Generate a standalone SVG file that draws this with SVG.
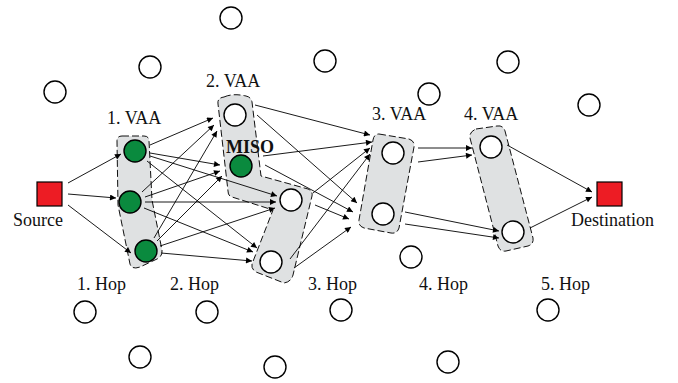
<svg xmlns="http://www.w3.org/2000/svg" width="678" height="383" viewBox="0 0 678 383">
<style>
.t{font-family:"Liberation Serif","Times New Roman",serif;font-size:18px;fill:#111}
.b{font-weight:bold}
.idle{fill:#fff;stroke:#000;stroke-width:1.4}
.grn{fill:#0a8a3e;stroke:#000;stroke-width:1.4}
.vaa{fill:#dfe1e2;stroke:#111;stroke-width:1;stroke-dasharray:7,3}
.sq{fill:#ed1c24;stroke:#000;stroke-width:1.2}
.c line{stroke:#000;stroke-width:0.9;marker-end:url(#ah)}
</style>
<defs>
<marker id="ah" viewBox="0 0 10 10" refX="10" refY="5" markerWidth="9" markerHeight="6" markerUnits="userSpaceOnUse" orient="auto">
<path d="M0,0 L10,5 L0,10 z" fill="#000"/>
</marker>
</defs>
<rect width="678" height="383" fill="#fff"/>

<g id="vaa-areas">
<path id="vaa1" class="vaa" d="M122,136 L144,136 Q149,136 149,141 L152,200 L162,250 Q163,256 157,259 L140,267 Q132,270 130,264 L118,205 L117,141 Q117,136 122,136 Z"/>
<path id="vaa2" class="vaa" d="M224,97 Q233,93 246,96 Q251,97 252,102 L261,176 L308,189 Q313,191 312,196 L293,275 Q291,282 284,283 L256,272 Q251,269 252,264 L273,210 L232,197 Q228,196 228,191 L218,104 Q217,98 224,97 Z"/>
<path id="vaa3" class="vaa" d="M379,134 L409,139 Q415,141 414,147 L399,228 Q397,234 391,233 L364,228 Q358,226 359,220 L373,140 Q374,134 379,134 Z"/>
<path id="vaa4" class="vaa" d="M476,129 L497,126 Q503,125 505,131 L533,238 Q534,244 528,246 L506,251 Q500,252 498,246 L470,138 Q469,132 476,129 Z"/>
</g>

<g id="connectors" class="c">
<line x1="68" y1="183" x2="121" y2="154"/>
<line x1="68" y1="194" x2="116" y2="198"/>
<line x1="68" y1="205" x2="131" y2="253"/>

<line x1="150" y1="145" x2="213" y2="118"/>
<line x1="150" y1="153" x2="220" y2="165"/>
<line x1="150" y1="156" x2="277" y2="196"/>
<line x1="147" y1="161" x2="257" y2="248"/>
<line x1="142" y1="192" x2="214" y2="125"/>
<line x1="145" y1="197" x2="220" y2="171"/>
<line x1="145" y1="202" x2="276" y2="202"/>
<line x1="144" y1="208" x2="253" y2="252"/>
<line x1="154" y1="238" x2="217" y2="131"/>
<line x1="157" y1="241" x2="222" y2="176"/>
<line x1="160" y1="246" x2="275" y2="208"/>
<line x1="161" y1="253" x2="252" y2="261"/>

<line x1="255" y1="105" x2="370" y2="135"/>
<line x1="257" y1="115" x2="357" y2="203"/>
<line x1="263" y1="156" x2="372" y2="142"/>
<line x1="265" y1="165" x2="353" y2="212"/>
<line x1="313" y1="193" x2="370" y2="148"/>
<line x1="315" y1="205" x2="349" y2="219"/>
<line x1="290" y1="259" x2="370" y2="154"/>
<line x1="294" y1="268" x2="351" y2="227"/>

<line x1="418" y1="148" x2="472" y2="148"/>
<line x1="418" y1="162" x2="472" y2="155"/>
<line x1="405" y1="212" x2="499" y2="231"/>
<line x1="405" y1="224" x2="499" y2="238"/>

<line x1="507" y1="145" x2="592" y2="192"/>
<line x1="530" y1="228" x2="592" y2="197"/>
</g>

<g id="source"><rect class="sq" x="37" y="182" width="25" height="24"/><text class="t" x="13" y="226">Source</text></g>
<g id="destination"><rect class="sq" x="597" y="182" width="25" height="24"/><text class="t" x="571" y="226">Destination</text></g>

<g id="g1"><circle class="grn" cx="135" cy="151" r="11"/></g>
<g id="g2"><circle class="grn" cx="130" cy="202" r="11"/></g>
<g id="g3"><circle class="grn" cx="146" cy="251" r="11"/></g>
<g id="v2a"><circle class="idle" cx="235" cy="115" r="11"/></g>
<g id="miso"><circle class="grn" cx="241" cy="166" r="11"/><text class="t b" x="226" y="153">MISO</text></g>
<g id="v2b"><circle class="idle" cx="291" cy="200" r="11"/></g>
<g id="v2c"><circle class="idle" cx="271" cy="262" r="11"/></g>
<g id="v3a"><circle class="idle" cx="393" cy="153" r="11"/></g>
<g id="v3b"><circle class="idle" cx="383" cy="214" r="11"/></g>
<g id="v4a"><circle class="idle" cx="491" cy="147" r="11"/></g>
<g id="v4b"><circle class="idle" cx="513" cy="232" r="11"/></g>

<g id="idle-nodes">
<g id="n1"><circle class="idle" cx="231" cy="18" r="11"/></g>
<g id="n2"><circle class="idle" cx="150" cy="67" r="11"/></g>
<g id="n3"><circle class="idle" cx="325" cy="61" r="11"/></g>
<g id="n4"><circle class="idle" cx="55" cy="92" r="11"/></g>
<g id="n5"><circle class="idle" cx="429" cy="94" r="11"/></g>
<g id="n6"><circle class="idle" cx="508" cy="62" r="11"/></g>
<g id="n7"><circle class="idle" cx="589" cy="105" r="11"/></g>
<g id="n8"><circle class="idle" cx="411" cy="257" r="11"/></g>
<g id="n9"><circle class="idle" cx="85" cy="312" r="11"/></g>
<g id="n10"><circle class="idle" cx="207" cy="312" r="11"/></g>
<g id="n11"><circle class="idle" cx="341" cy="310" r="11"/></g>
<g id="n12"><circle class="idle" cx="548" cy="310" r="11"/></g>
<g id="n13"><circle class="idle" cx="140" cy="357" r="11"/></g>
<g id="n14"><circle class="idle" cx="275" cy="367" r="11"/></g>
<g id="n15"><circle class="idle" cx="448" cy="362" r="11"/></g>
</g>

<g id="labels">
<text class="t" x="107" y="124">1. VAA</text>
<text class="t" x="206" y="87">2. VAA</text>
<text class="t" x="372" y="120">3. VAA</text>
<text class="t" x="464" y="120">4. VAA</text>
<text class="t" x="77" y="290">1. Hop</text>
<text class="t" x="170" y="290">2. Hop</text>
<text class="t" x="308" y="290">3. Hop</text>
<text class="t" x="419" y="290">4. Hop</text>
<text class="t" x="541" y="290">5. Hop</text>
</g>
</svg>
